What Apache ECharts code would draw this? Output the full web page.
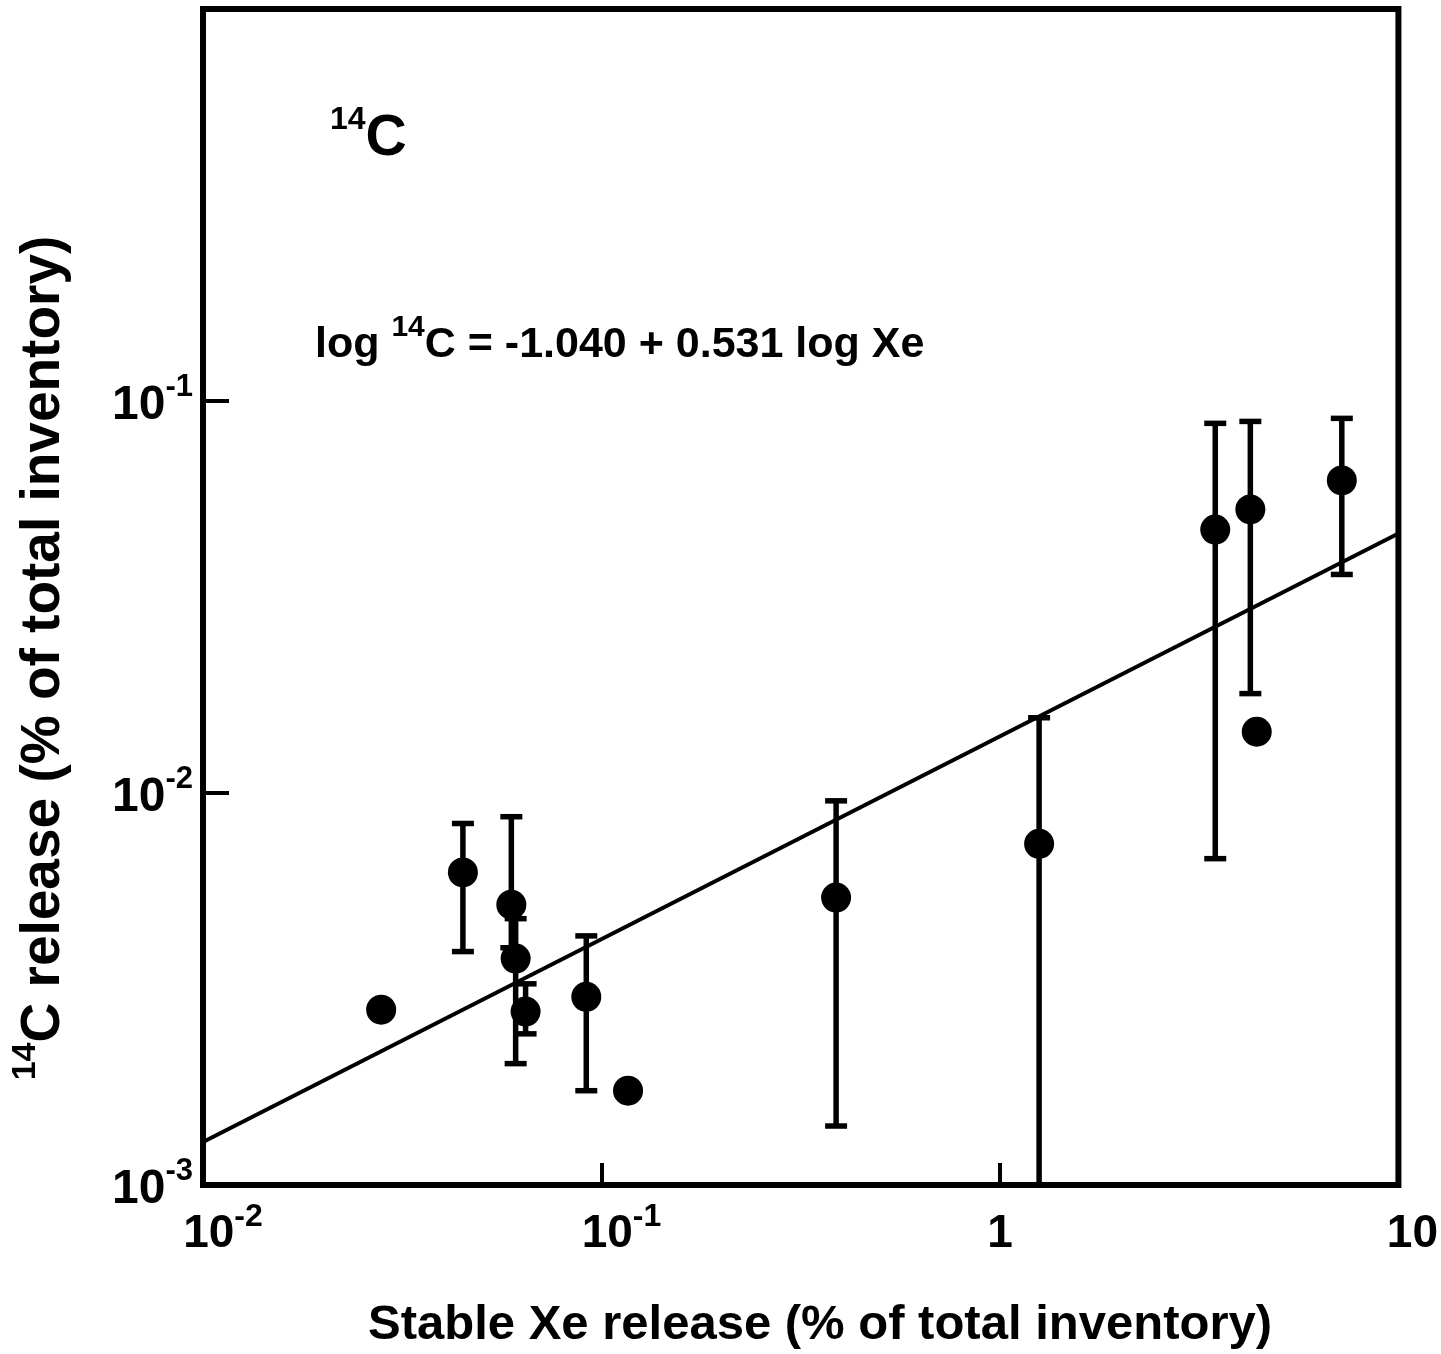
<!DOCTYPE html>
<html>
<head>
<meta charset="utf-8">
<script src="https://cdn.jsdelivr.net/npm/echarts@6/dist/echarts.min.js"></script>
<style>
  html, body { margin: 0; padding: 0; background: #fff; }
  #chart { width: 1441px; height: 1354px; }
</style>
</head>
<body>
<div id="chart"></div>
<script>
// ---- data ----
const xTickValues = [0.01, 0.1, 1, 10];
const xTickLabels = [['10', '-2'], ['10', '-1'], ['1', ''], ['10', '']];
const yTickValues = [0.001, 0.01, 0.1, 1];
const yTickLabels = [['10', '-3'], ['10', '-2'], ['10', '-1'], ['', '']];

// Stable Xe release (% of total inventory)
const xeRelease = [0.028, 0.0449, 0.0594, 0.0609, 0.0645, 0.0916, 0.1166, 0.388, 1.254, 3.47, 4.25, 4.41, 7.21];
// 14C release (% of total inventory)
const c14Release = [0.0028, 0.00627, 0.00519, 0.00378, 0.00277, 0.00302, 0.00174, 0.00541, 0.00742, 0.0470, 0.0529, 0.01433, 0.0627];
// error bar limits (null = no error bar)
const errLow  = [null, 0.00394, 0.00403, 0.00204, 0.00243, 0.00174, null, 0.001414, 0.0005, 0.0068, 0.01793, null, 0.0361];
const errHigh = [null, 0.00836, 0.00870, 0.00478, 0.00326, 0.00432, null, 0.00955, 0.01556, 0.0877, 0.0887, null, 0.0903];

// regression line end points
const fitX = [0.01, 10];
const fitY = [0.001288, 0.0459];

const FONT = "'Liberation Sans', Arial, Helvetica, sans-serif";

const points = xeRelease.map((x, i) => [x, c14Release[i]]);
const bars = [];
xeRelease.forEach((x, i) => { if (errLow[i] != null) bars.push([x, errLow[i], errHigh[i]]); });
const fitLine = fitX.map((x, i) => [x, fitY[i]]);

function tickIndex(vals, v) {
  const lv = Math.log10(v);
  let best = 0, d = 1e9;
  vals.forEach((t, i) => { const dd = Math.abs(Math.log10(t) - lv); if (dd < d) { d = dd; best = i; } });
  return best;
}

function renderErr(params, api) {
  const x = api.value(0), lo = api.value(1), hi = api.value(2);
  const top = api.coord([x, hi]);
  let bot = api.coord([x, lo]);
  const cs = params.coordSys;
  const bottomY = cs.y + cs.height;
  let capBot = true;
  if (bot[1] > bottomY) { bot = [bot[0], bottomY]; capBot = false; }
  const half = 11;
  const st = { stroke: '#000', lineWidth: 5.5 };
  const children = [
    { type: 'line', shape: { x1: top[0], y1: top[1], x2: bot[0], y2: bot[1] }, style: st },
    { type: 'line', shape: { x1: top[0] - half, y1: top[1], x2: top[0] + half, y2: top[1] }, style: st }
  ];
  if (capBot) children.push({ type: 'line', shape: { x1: bot[0] - half, y1: bot[1], x2: bot[0] + half, y2: bot[1] }, style: st });
  return { type: 'group', children };
}

const chart = echarts.init(document.getElementById('chart'), null, { renderer: 'canvas' });

chart.setOption({
  backgroundColor: '#fff',
  animation: false,
  grid: { left: 203, top: 9, width: 1207, height: 1176, show: true, borderColor: '#000', borderWidth: 6, backgroundColor: 'transparent' },
  xAxis: {
    type: 'log', logBase: 10, min: 0.01, max: 10,
    axisLine: { show: false },
    axisTick: { show: true, inside: true, length: 22, lineStyle: { color: '#000', width: 4 } },
    minorTick: { show: false },
    splitLine: { show: false },
    axisLabel: {
      margin: 16,
      color: '#000',
      formatter: function (v) {
        const l = xTickLabels[tickIndex(xTickValues, v)];
        if (l[1]) return '{sp|}{b|' + l[0] + '}{s|' + l[1] + '}';
        if (l[0] === '10') return '{sp2|}{b|' + l[0] + '}';
        return '{b|' + l[0] + '}';
      },
      rich: {
        b: { fontFamily: FONT, fontWeight: 'bold', fontSize: 46, lineHeight: 56, verticalAlign: 'bottom', color: '#000' },
        s: { fontFamily: FONT, fontWeight: 'bold', fontSize: 32, lineHeight: 56, verticalAlign: 'top', color: '#000' },
        sp: { width: 40 },
        sp2: { width: 28 }
      }
    }
  },
  yAxis: {
    type: 'log', logBase: 10, min: 0.001, max: 1,
    axisLine: { show: false },
    axisTick: { show: true, inside: true, length: 26, lineStyle: { color: '#000', width: 4 } },
    minorTick: { show: false },
    splitLine: { show: false },
    axisLabel: {
      margin: 10,
      color: '#000',
      formatter: function (v) {
        const l = yTickLabels[tickIndex(yTickValues, v)];
        if (!l[0]) return '';
        return '{b|' + l[0] + '}{s|' + l[1] + '}';
      },
      rich: {
        b: { fontFamily: FONT, fontWeight: 'bold', fontSize: 48, lineHeight: 58, verticalAlign: 'bottom', color: '#000' },
        s: { fontFamily: FONT, fontWeight: 'bold', fontSize: 31, lineHeight: 58, verticalAlign: 'top', color: '#000' }
      }
    }
  },
  graphic: [
    {
      type: 'text', left: 330, top: 104,
      style: {
        text: '{s|14}{b|C}', fill: '#000',
        rich: {
          s: { fontFamily: FONT, fontWeight: 'bold', fontSize: 32, lineHeight: 64, verticalAlign: 'top' },
          b: { fontFamily: FONT, fontWeight: 'bold', fontSize: 57, lineHeight: 64, verticalAlign: 'bottom' }
        }
      }
    },
    {
      type: 'text', left: 315, top: 313,
      style: {
        text: '{t|log }{s|14}{t|C = -1.040 + 0.531 log Xe}', fill: '#000',
        rich: {
          t: { fontFamily: FONT, fontWeight: 'bold', fontSize: 43, lineHeight: 54, verticalAlign: 'bottom' },
          s: { fontFamily: FONT, fontWeight: 'bold', fontSize: 30, lineHeight: 54, verticalAlign: 'top' }
        }
      }
    },
    {
      type: 'text', x: 820, y: 1325,
      style: {
        text: 'Stable Xe release (% of total inventory)', fill: '#000',
        font: 'bold 49px ' + FONT, textAlign: 'center', textVerticalAlign: 'middle'
      }
    },
    {
      type: 'text', x: 40, y: 658, rotation: Math.PI / 2,
      style: {
        text: '{s|14}{b|C release (% of total inventory)}', fill: '#000',
        textAlign: 'center', textVerticalAlign: 'middle',
        rich: {
          s: { fontFamily: FONT, fontWeight: 'bold', fontSize: 34, lineHeight: 62, verticalAlign: 'top' },
          b: { fontFamily: FONT, fontWeight: 'bold', fontSize: 55, lineHeight: 62, verticalAlign: 'bottom' }
        }
      }
    }
  ],
  series: [
    {
      type: 'line', data: fitLine, symbol: 'none', silent: true,
      lineStyle: { color: '#000', width: 4 }, z: 2
    },
    {
      type: 'custom', data: bars, renderItem: renderErr, silent: true, z: 3,
      encode: { x: 0, y: [1, 2] }
    },
    {
      type: 'scatter', data: points, symbol: 'circle', symbolSize: 30,
      itemStyle: { color: '#000', opacity: 1 }, silent: true, z: 4
    }
  ]
});
</script>
</body>
</html>
